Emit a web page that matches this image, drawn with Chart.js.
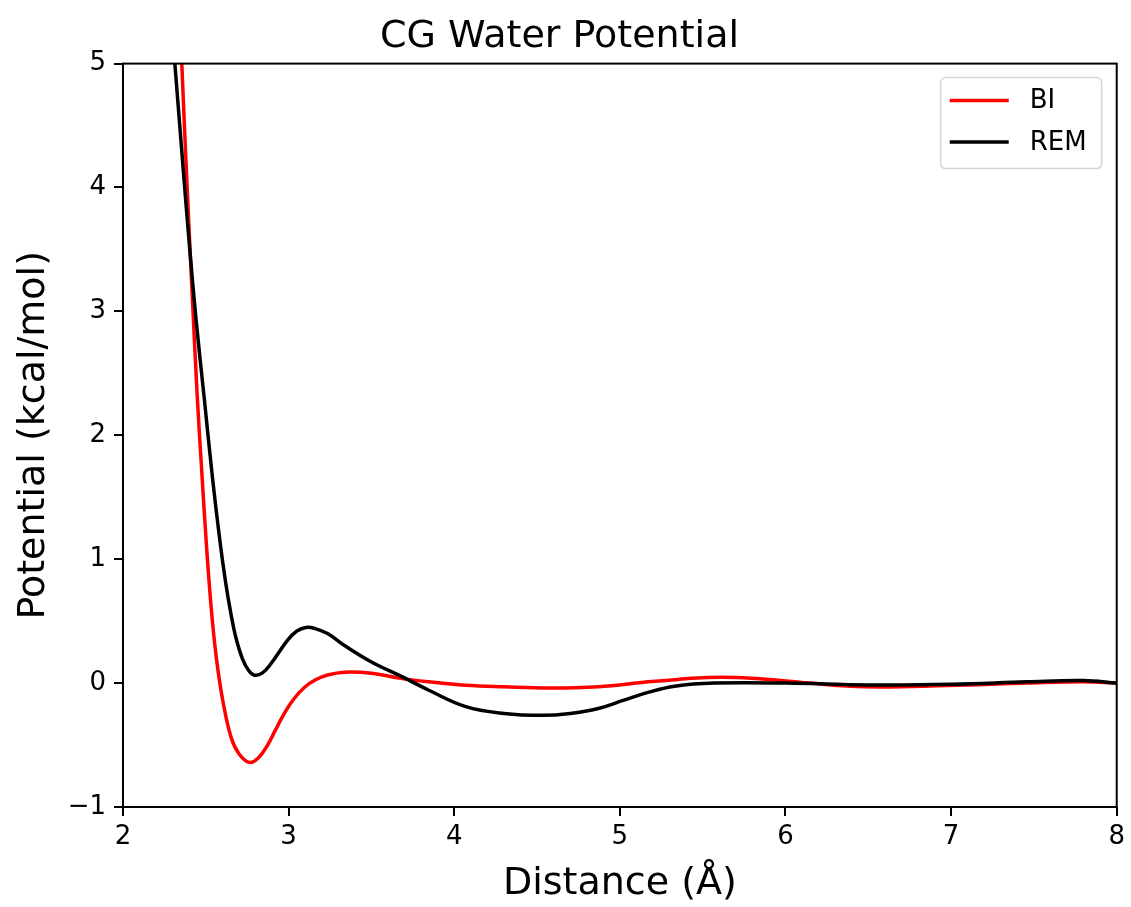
<!DOCTYPE html>
<html>
<head>
<meta charset="utf-8">
<script src="https://cdn.jsdelivr.net/npm/chart.js@4"></script>
<style>
  html, body { margin: 0; padding: 0; background: #fff; }
  #wrap { width: 1131px; height: 907px; }
</style>
</head>
<body>
<div id="wrap"><canvas id="potChart" width="1131" height="907"></canvas></div>
<script>
// distances in Angstrom, potentials in kcal/mol
const biDistance = [2.30, 2.355, 2.386, 2.412, 2.448, 2.475, 2.502, 2.532, 2.563, 2.602, 2.653, 2.70, 2.763, 2.82, 2.873, 2.92, 2.974, 3.03, 3.095, 3.16, 3.235, 3.335, 3.5, 3.667, 3.85, 4.07, 4.3, 4.57, 4.87, 5.17, 5.35, 5.53, 5.7, 5.9, 6.14, 6.48, 6.98, 7.46, 7.8, 8.0];
const biPotential = [6.8, 5.0, 4.04, 3.3, 2.32, 1.72, 1.15, 0.615, 0.21, -0.138, -0.44, -0.57, -0.64, -0.60, -0.50, -0.38, -0.245, -0.13, -0.035, 0.025, 0.065, 0.088, 0.08, 0.04, 0.01, -0.017, -0.03, -0.04, -0.03, 0.01, 0.03, 0.045, 0.045, 0.03, 0.0, -0.03, -0.02, 0.0, 0.01, 0.0];

const remDistance = [2.27, 2.313, 2.37, 2.40, 2.44, 2.492, 2.54, 2.584, 2.62, 2.653, 2.683, 2.723, 2.76, 2.793, 2.84, 2.894, 2.994, 3.05, 3.105, 3.16, 3.235, 3.335, 3.5, 3.687, 3.85, 4.07, 4.3, 4.53, 4.7, 4.87, 5.02, 5.17, 5.33, 5.57, 6.0, 6.5, 7.0, 7.46, 7.8, 8.0];
const remPotential = [5.7, 5.0, 4.04, 3.55, 2.95, 2.28, 1.66, 1.16, 0.81, 0.55, 0.36, 0.19, 0.10, 0.064, 0.08, 0.158, 0.347, 0.42, 0.449, 0.44, 0.40, 0.305, 0.17, 0.05, -0.06, -0.19, -0.245, -0.26, -0.245, -0.205, -0.14, -0.075, -0.025, 0.0, 0.0, -0.015, -0.01, 0.01, 0.02, 0.0];

const xTicks = [2, 3, 4, 5, 6, 7, 8];
const yTicks = [-1, 0, 1, 2, 3, 4, 5];

const toPoints = (xs, ys) => xs.map((x, i) => ({ x: x, y: ys[i] }));

// matplotlib-style frame + legend box inside the axes
const framePlugin = {
  id: 'frame',
  afterDatasetsDraw(chart) {
    const { ctx, chartArea: a } = chart;
    ctx.save();
    ctx.strokeStyle = '#000';
    ctx.lineWidth = 2;
    ctx.strokeRect(a.left, a.top, a.right - a.left, a.bottom - a.top);

    const bw = 161, bh = 91;
    const bx = a.right - 15 - bw, by = a.top + 14;
    ctx.beginPath();
    ctx.roundRect(bx, by, bw, bh, 5);
    ctx.fillStyle = 'rgba(255,255,255,0.8)';
    ctx.fill();
    ctx.lineWidth = 1.5;
    ctx.strokeStyle = '#d6d6d6';
    ctx.stroke();

    ctx.font = '26px "DejaVu Sans"';
    ctx.textBaseline = 'middle';
    chart.data.datasets.forEach((ds, i) => {
      const ly = by + 23 + i * 41.5;
      ctx.beginPath();
      ctx.moveTo(bx + 9, ly);
      ctx.lineTo(bx + 68, ly);
      ctx.strokeStyle = ds.borderColor;
      ctx.lineWidth = 3.5;
      ctx.stroke();
      ctx.fillStyle = '#000';
      ctx.fillText(ds.label, bx + 89, ly + 1);
    });
    ctx.restore();
  }
};

new Chart(document.getElementById('potChart').getContext('2d'), {
  type: 'line',
  data: {
    datasets: [
      {
        label: 'BI',
        data: toPoints(biDistance, biPotential),
        borderColor: '#ff0000',
        borderWidth: 3.5,
        pointRadius: 0,
        tension: 0.4,
        order: 2
      },
      {
        label: 'REM',
        data: toPoints(remDistance, remPotential),
        borderColor: '#000000',
        borderWidth: 3.5,
        pointRadius: 0,
        tension: 0.4,
        order: 1
      }
    ]
  },
  options: {
    responsive: false,
    animation: false,
    layout: { padding: { left: 0, right: 12, top: 0, bottom: 0 } },
    plugins: {
      legend: { display: false },
      tooltip: { enabled: false },
      title: {
        display: true,
        text: 'CG Water Potential',
        color: '#000',
        font: { family: 'DejaVu Sans', size: 38, weight: 'normal' },
        padding: { top: 14, bottom: 4 }
      }
    },
    scales: {
      x: {
        type: 'linear',
        min: 2,
        max: 8,
        afterBuildTicks: (s) => { s.ticks = xTicks.map(v => ({ value: v })); },
        afterFit: (s) => { s.height = 100; },
        border: { display: false },
        grid: { drawOnChartArea: false, drawTicks: true, tickLength: 9, color: '#000', lineWidth: 2 },
        ticks: { color: '#000', padding: 6, font: { family: 'DejaVu Sans', size: 26 }, maxRotation: 0 },
        title: {
          display: true,
          text: 'Distance (Å)',
          color: '#000',
          font: { family: 'DejaVu Sans', size: 38 },
          padding: { top: 4, bottom: 0 }
        }
      },
      y: {
        type: 'linear',
        min: -1,
        max: 5,
        afterBuildTicks: (s) => { s.ticks = yTicks.map(v => ({ value: v })); },
        afterFit: (s) => { s.width = 123; },
        border: { display: false },
        grid: { drawOnChartArea: false, drawTicks: true, tickLength: 9, color: '#000', lineWidth: 2 },
        ticks: {
          color: '#000',
          padding: 8,
          font: { family: 'DejaVu Sans', size: 26 },
          callback: (v) => String(v).replace('-', '\u2212')
        },
        title: {
          display: true,
          text: 'Potential (kcal/mol)',
          color: '#000',
          font: { family: 'DejaVu Sans', size: 38 },
          padding: { top: 11, bottom: 4 }
        }
      }
    }
  },
  plugins: [framePlugin]
});
</script>
</body>
</html>
